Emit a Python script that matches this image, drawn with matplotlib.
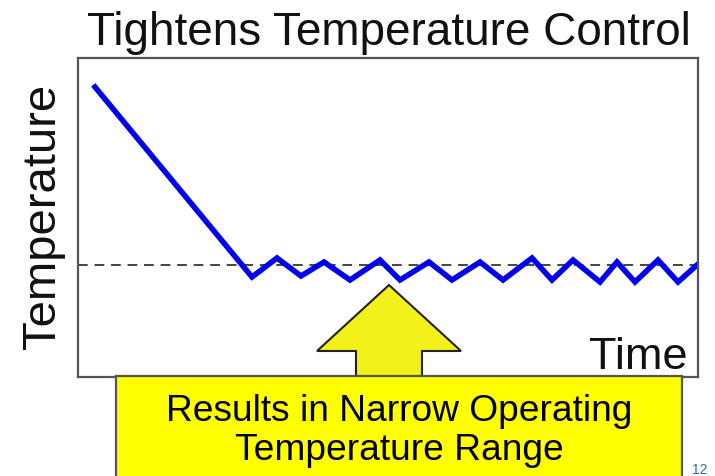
import matplotlib.pyplot as plt
from matplotlib.patches import Rectangle, FancyArrow

plt.rcParams['font.family'] = ['Liberation Sans', 'DejaVu Sans']

# temperature trace (time, temperature in arbitrary units)
time = [17, 174, 199, 223, 246, 272, 302, 322, 351, 374, 402, 425,
        454, 474, 495, 522, 539, 557, 580, 600, 619]
temp = [290, 100, 119, 101, 115, 97, 117, 97, 115, 97, 115, 97,
        119, 97, 117, 95, 115, 95, 117, 95, 112]
setpoint = 112

title = 'Tightens Temperature Control'
ylabel = 'Temperature'
xlabel = 'Time'
callout = ['Results in Narrow Operating', 'Temperature Range']

W, H = 715, 476
fig = plt.figure(figsize=(W / 100, H / 100), dpi=100)
ax = fig.add_axes([78 / W, 1 - 377 / H, 620 / W, 319 / H])
ax.set_xlim(0, 620)
ax.set_ylim(0, 319)
ax.set_xticks([])
ax.set_yticks([])
for s in ax.spines.values():
    s.set_color('#555555')
    s.set_linewidth(1.6)

ax.axhline(setpoint, color='#444444', lw=1.4, ls=(0, (5, 3.5)), zorder=1)
ax.plot(time, temp, color='#0000EE', lw=4, solid_joinstyle='miter', zorder=2)

# yellow arrow pointing at the oscillation
arr = FancyArrow(311, 0, 0, 92, width=66, head_width=144, head_length=66,
                 length_includes_head=True, facecolor='#F2F21A',
                 edgecolor='#222222', lw=1.5, zorder=3)
ax.add_patch(arr)

fig.text(389 / W, 1 - 45 / H, title, ha='center', va='baseline',
         fontsize=33, color='#111111')
fig.text(43 / W, 1 - 216 / H, ylabel, rotation=90, ha='center', va='center',
         fontsize=34, color='#111111')
fig.text(688 / W, 1 - 369 / H, xlabel, ha='right', va='baseline',
         fontsize=32.5, color='#111111')

box = Rectangle((116 / W, -0.05), (682 - 116) / W, 0.05 + 1 - 376 / H,
                transform=fig.transFigure, facecolor='#FFFF00',
                edgecolor='#555555', lw=1.6, zorder=5, clip_on=False)
fig.patches.append(box)
fig.text(399 / W, 1 - 421 / H, callout[0], ha='center', va='baseline',
         fontsize=26.7, color='black', zorder=6)
fig.text(399 / W, 1 - 460 / H, callout[1], ha='center', va='baseline',
         fontsize=26.7, color='black', zorder=6)

fig.text(692 / W, 1 - 474 / H, '12', ha='left', va='baseline',
         fontsize=10, color='#2F6DAE')

fig.savefig('out.png', dpi=100)
